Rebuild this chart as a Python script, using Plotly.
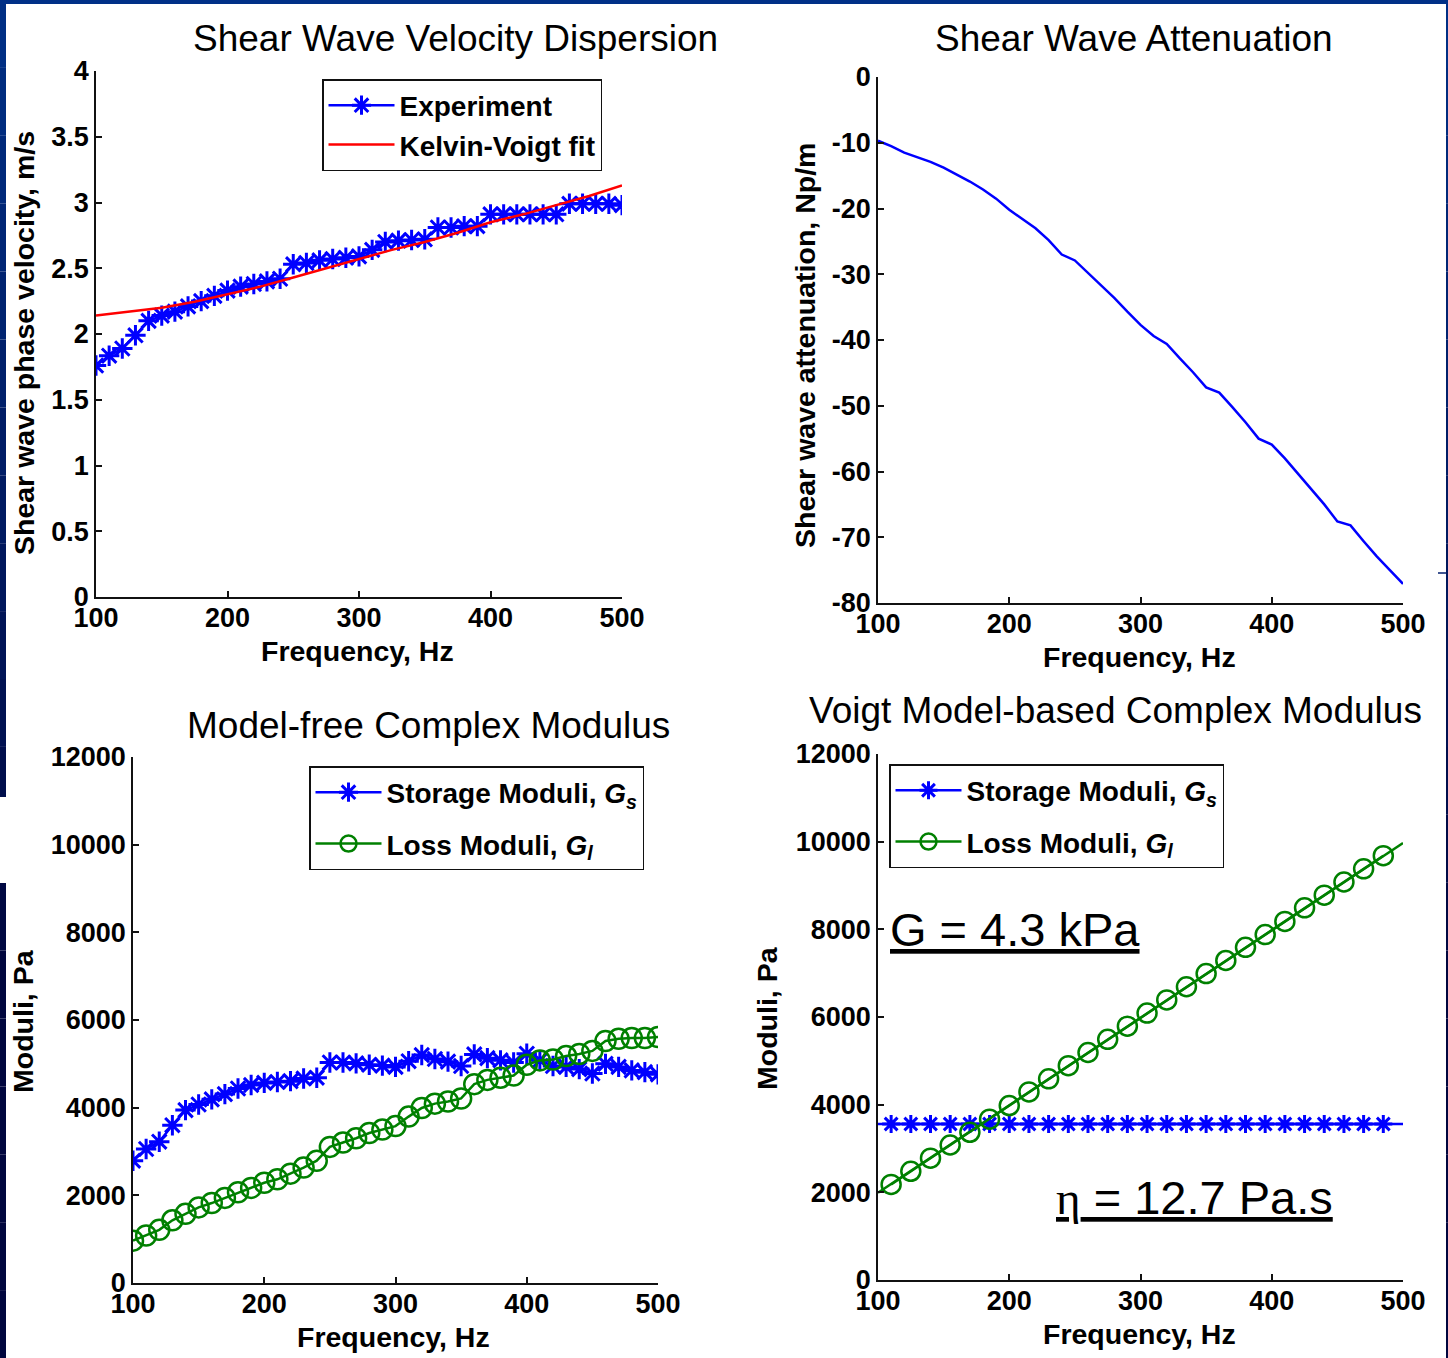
import plotly.graph_objects as go

W, H = 1448, 1358

# ---------------- data ----------------
freq = [100, 110, 120, 130, 140, 150, 160, 170, 180, 190, 200, 210, 220, 230, 240,
        250, 260, 270, 280, 290, 300, 310, 320, 330, 340, 350, 360, 370, 380, 390,
        400, 410, 420, 430, 440, 450, 460, 470, 480, 490, 500]

velocity_exp = [1.76, 1.835, 1.89, 1.99, 2.10, 2.14, 2.17, 2.21, 2.25, 2.29, 2.33,
                2.36, 2.38, 2.40, 2.42, 2.53, 2.54, 2.56, 2.57, 2.58, 2.59, 2.64,
                2.70, 2.71, 2.715, 2.72, 2.81, 2.81, 2.82, 2.82, 2.91, 2.91, 2.91,
                2.91, 2.91, 2.91, 2.99, 2.99, 2.99, 2.99, 2.98]

fit_freq = [100, 125, 150, 175, 200, 225, 250, 275, 300, 325, 350, 375, 400, 425,
            450, 475, 500]
velocity_fit = [2.14, 2.17, 2.20, 2.245, 2.30, 2.36, 2.43, 2.50, 2.57, 2.64, 2.70,
                2.77, 2.85, 2.91, 2.98, 3.05, 3.13]

attenuation = [-9.7, -10.5, -11.5, -12.2, -12.9, -13.8, -14.8, -15.9, -17.1, -18.5,
               -20.2, -21.6, -23.0, -24.8, -27.0, -27.9, -29.8, -31.6, -33.6, -35.7,
               -37.7, -39.4, -40.6, -42.8, -44.9, -47.2, -48.0, -50.2, -52.5, -55.0,
               -55.9, -58.0, -60.3, -62.6, -65.0, -67.6, -68.2, -70.6, -72.9, -75.0,
               -77.1]

storage_free = [2790, 3057, 3224, 3600, 3944, 4072, 4190, 4309, 4437, 4516, 4565,
                4585, 4605, 4664, 4684, 5030, 5030, 5010, 4980, 4960, 4930, 5060,
                5200, 5110, 5050, 4950, 5215, 5130, 5080, 5030, 5230, 5080, 4950,
                4930, 4880, 4780, 5000, 4930, 4850, 4810, 4760]

loss_free = [966, 1085, 1213, 1430, 1578, 1725, 1824, 1942, 2070, 2170, 2288, 2366,
             2495, 2633, 2790, 3105, 3205, 3303, 3421, 3500, 3579, 3796, 3993, 4092,
             4141, 4210, 4536, 4634, 4684, 4733, 4980, 5078, 5098, 5177, 5226, 5295,
             5522, 5571, 5590, 5590, 5610]

voigt_line_freq = [100, 500]
voigt_storage_line = [3560, 3560]
voigt_loss_line = [1990, 9970]

voigt_marker_freq = [110, 125, 140, 155, 170, 185, 200, 215, 230, 245, 260, 275, 290,
                     305, 320, 335, 350, 365, 380, 395, 410, 425, 440, 455, 470, 485]
voigt_storage = [3560, 3560, 3560, 3560, 3560, 3560, 3560, 3560, 3560, 3560, 3560,
                 3560, 3560, 3560, 3560, 3560, 3560, 3560, 3560, 3560, 3560, 3560,
                 3560, 3560, 3560, 3560]
voigt_loss = [2180, 2480, 2780, 3080, 3370, 3670, 3980, 4290, 4590, 4890, 5190, 5490,
              5790, 6090, 6390, 6690, 6990, 7290, 7590, 7880, 8180, 8490, 8780, 9080,
              9380, 9680]

freq_ticks = [100, 200, 300, 400, 500]
vel_ticks = [0, 0.5, 1, 1.5, 2, 2.5, 3, 3.5, 4]
att_ticks = [-80, -70, -60, -50, -40, -30, -20, -10, 0]
att_ticktext = ["-80", "-70", "-60", "-50", "-40", "-30", "-20", "-10", "0"]
mod_ticks = [0, 2000, 4000, 6000, 8000, 10000, 12000]

titles = ["Shear Wave Velocity Dispersion", "Shear Wave Attenuation",
          "Model-free Complex Modulus", "Voigt Model-based Complex Modulus"]

# ---------------- style ----------------
BLUE = "#0000ff"
RED = "#ff0000"
GREEN = "#008000"
FONT = "Liberation Sans, Arial, sans-serif"


def px_x(px):
    return px / W


def px_y(py):
    return 1 - py / H


fig = go.Figure()

# Plot 1
fig.add_trace(go.Scatter(x=freq, y=velocity_exp, mode="lines+markers", name="Experiment",
                         line=dict(color=BLUE, width=2.5),
                         marker=dict(symbol="asterisk-open", size=17,
                                     line=dict(color=BLUE, width=3)),
                         xaxis="x", yaxis="y", legend="legend"))
fig.add_trace(go.Scatter(x=fit_freq, y=velocity_fit, mode="lines", name="Kelvin-Voigt fit",
                         line=dict(color=RED, width=2.5),
                         xaxis="x", yaxis="y", legend="legend"))

# Plot 2
fig.add_trace(go.Scatter(x=freq, y=attenuation, mode="lines", showlegend=False,
                         line=dict(color=BLUE, width=2.5), xaxis="x2", yaxis="y2"))

# Plot 3
fig.add_trace(go.Scatter(x=freq, y=storage_free, mode="lines+markers",
                         name="Storage Moduli, <i>G</i><sub><i>s</i></sub>",
                         legendgroup="s3",
                         line=dict(color=BLUE, width=2.5),
                         marker=dict(symbol="asterisk-open", size=17,
                                     line=dict(color=BLUE, width=3)),
                         xaxis="x3", yaxis="y3", legend="legend2"))
fig.add_trace(go.Scatter(x=freq, y=loss_free, mode="lines+markers",
                         name="Loss Moduli, <i>G</i><sub><i>l</i></sub>",
                         legendgroup="l3",
                         line=dict(color=GREEN, width=2.5),
                         marker=dict(symbol="circle-open", size=20,
                                     line=dict(color=GREEN, width=2.5)),
                         xaxis="x3", yaxis="y3", legend="legend2"))

# Plot 4
fig.add_trace(go.Scatter(x=voigt_line_freq, y=voigt_storage_line, mode="lines",
                         showlegend=False, line=dict(color=BLUE, width=2.5),
                         xaxis="x4", yaxis="y4"))
fig.add_trace(go.Scatter(x=voigt_line_freq, y=voigt_loss_line, mode="lines",
                         showlegend=False, line=dict(color=GREEN, width=2.5),
                         xaxis="x4", yaxis="y4"))
fig.add_trace(go.Scatter(x=voigt_marker_freq, y=voigt_storage, mode="lines+markers",
                         name="Storage Moduli, <i>G</i><sub><i>s</i></sub>",
                         legendgroup="s4",
                         line=dict(color=BLUE, width=2.5),
                         marker=dict(symbol="asterisk-open", size=15,
                                     line=dict(color=BLUE, width=3)),
                         xaxis="x4", yaxis="y4", legend="legend3"))
fig.add_trace(go.Scatter(x=voigt_marker_freq, y=voigt_loss, mode="lines+markers",
                         name="Loss Moduli, <i>G</i><sub><i>l</i></sub>",
                         legendgroup="l4",
                         line=dict(color=GREEN, width=2.5),
                         marker=dict(symbol="circle-open", size=19,
                                     line=dict(color=GREEN, width=2.5)),
                         xaxis="x4", yaxis="y4", legend="legend3"))

axis_common = dict(showline=True, linecolor="#111111", linewidth=1.5, ticks="inside",
                   ticklen=6, tickwidth=1.5, tickcolor="#111111", showgrid=False,
                   zeroline=False, mirror=False, automargin=False,
                   tickfont=dict(family=FONT, size=27, color="black", weight="bold"))

domains = {
    1: ([px_x(96), px_x(622)], [px_y(597), px_y(71)]),
    2: ([px_x(878), px_x(1403)], [px_y(603), px_y(77)]),
    3: ([px_x(133), px_x(658)], [px_y(1283), px_y(757)]),
    4: ([px_x(878), px_x(1403)], [px_y(1280), px_y(754)]),
}

layout_axes = {}
for i in range(1, 5):
    sx = "" if i == 1 else str(i)
    layout_axes["xaxis" + sx] = dict(axis_common, domain=domains[i][0], range=[100, 500],
                                     tickvals=freq_ticks, anchor="y" + sx,
                                     ticklabelstandoff=-4)
layout_axes["yaxis"] = dict(axis_common, domain=domains[1][1], range=[0, 4],
                            tickvals=vel_ticks, anchor="x")
layout_axes["yaxis2"] = dict(axis_common, domain=domains[2][1], range=[-80, 0],
                             tickvals=att_ticks, ticktext=att_ticktext, anchor="x2")
layout_axes["yaxis3"] = dict(axis_common, domain=domains[3][1], range=[0, 12000],
                             tickvals=mod_ticks, tickformat="d", anchor="x3")
layout_axes["yaxis4"] = dict(axis_common, domain=domains[4][1], range=[0, 12000],
                             tickvals=mod_ticks, tickformat="d", anchor="x4")

legend_common = dict(bgcolor="white", bordercolor="#111111", borderwidth=1.5,
                     font=dict(family=FONT, size=28, color="black", weight="bold"),
                     xanchor="left", yanchor="top", itemwidth=66)

title_font = dict(family=FONT, size=37, color="black")
label_font = dict(family=FONT, size=28.5, color="black", weight="bold")

annotations = []
title_pos = [(456, 38), (1134, 38), (428, 725), (1115, 710)]
for t, (x, y) in zip(titles, title_pos):
    annotations.append(dict(text=t, x=px_x(x), y=px_y(y), xref="paper", yref="paper",
                            showarrow=False, xanchor="center", yanchor="middle",
                            font=title_font))
xlabel_pos = [(357, 651), (1139, 657), (393, 1337), (1139, 1334)]
for (x, y) in xlabel_pos:
    annotations.append(dict(text="Frequency, Hz", x=px_x(x), y=px_y(y), xref="paper",
                            yref="paper", showarrow=False, xanchor="center",
                            yanchor="middle", font=label_font))
ylabels = [("Shear wave phase velocity, m/s", 24, 343),
           ("Shear wave attenuation, Np/m", 805, 346),
           ("Moduli, Pa", 23, 1021),
           ("Moduli, Pa", 767, 1018)]
for (t, x, y) in ylabels:
    annotations.append(dict(text=t, x=px_x(x), y=px_y(y), xref="paper", yref="paper",
                            showarrow=False, xanchor="center", yanchor="middle",
                            textangle=-90, font=label_font))

annotations.append(dict(text="<u>G = 4.3 kPa</u>", x=px_x(888), y=px_y(929),
                        xref="paper", yref="paper", showarrow=False, xanchor="left",
                        yanchor="middle", font=dict(family=FONT, size=47, color="black")))
annotations.append(dict(text="<u><span style=\"font-family:Liberation Serif\">η</span> = 12.7 Pa.s</u>",
                        x=px_x(1054), y=px_y(1197),
                        xref="paper", yref="paper", showarrow=False, xanchor="left",
                        yanchor="middle", font=dict(family=FONT, size=47, color="black")))

# slide frame (decorative)
shapes = []


def blend(t):
    top = (0, 48, 135)
    bot = (0, 6, 62)
    return "rgb(%d,%d,%d)" % tuple(round(a + (b - a) * t) for a, b in zip(top, bot))


n_seg = 20
for k in range(n_seg):
    y0 = H * k / n_seg
    y1 = H * (k + 1) / n_seg
    col = blend(min(1.0, (k + 0.5) / n_seg * 1.4))
    segs = []
    if y1 <= 797 or y0 >= 883:
        segs.append((y0, y1))
    else:
        if y0 < 797:
            segs.append((y0, 797))
        if y1 > 883:
            segs.append((883, y1))
    for (a, b) in segs:
        shapes.append(dict(type="rect", xref="paper", yref="paper", x0=0, x1=px_x(6),
                           y0=px_y(b), y1=px_y(a), fillcolor=col, line=dict(width=0),
                           layer="above"))
    shapes.append(dict(type="rect", xref="paper", yref="paper", x0=px_x(1446), x1=1,
                       y0=px_y(y1), y1=px_y(y0), fillcolor=col, line=dict(width=0),
                       layer="above"))
shapes.append(dict(type="rect", xref="paper", yref="paper", x0=0, x1=1, y0=px_y(4), y1=1,
                   fillcolor="rgb(0,48,135)", line=dict(width=0), layer="above"))
shapes.append(dict(type="line", xref="paper", yref="paper", x0=px_x(1438), x1=px_x(1446),
                   y0=px_y(573), y1=px_y(573), line=dict(color="rgb(0,30,110)", width=1.5)))

fig.update_layout(
    width=W, height=H, margin=dict(l=0, r=0, t=0, b=0, pad=0, autoexpand=False),
    paper_bgcolor="white", plot_bgcolor="white",
    font=dict(family=FONT, color="black"),
    legend=dict(legend_common, x=px_x(322), y=px_y(79), tracegroupgap=0),
    legend2=dict(legend_common, x=px_x(309), y=px_y(766), tracegroupgap=12),
    legend3=dict(legend_common, x=px_x(889), y=px_y(764), tracegroupgap=12),
    annotations=annotations, shapes=shapes,
    **layout_axes,
)

fig.write_html("out.html")
